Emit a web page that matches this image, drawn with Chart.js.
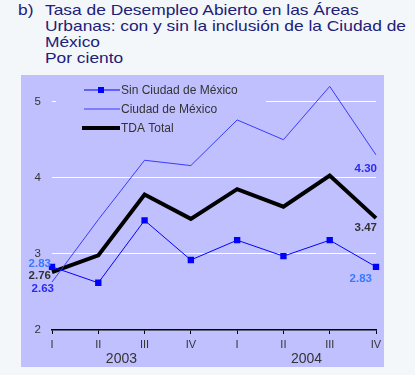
<!DOCTYPE html>
<html>
<head>
<meta charset="utf-8">
<script src="https://cdn.jsdelivr.net/npm/chart.js@4.4.1/dist/chart.umd.min.js"></script>
<style>
  html, body { margin: 0; padding: 0; }
  body { width: 415px; height: 375px; background: #f4f7fa; position: relative; overflow: hidden;
         font-family: "Liberation Sans", Arial, sans-serif; }
  .t { position: absolute; color: #202078; font-size: 13.9px; line-height: 16px;
       transform: scaleX(1.25); transform-origin: 0 0; white-space: nowrap; }
  #panel { position: absolute; left: 21px; top: 75px; width: 363px; height: 292px; background: #c0c0ff; }
  canvas { display: block; }
</style>
</head>
<body>
<div class="t" style="left:18px; top:2px;">b)</div>
<div class="t" style="left:45px; top:2px;">Tasa de Desempleo Abierto en las Áreas<br>Urbanas: con y sin la inclusión de la Ciudad de<br>México<br>Por ciento</div>
<div id="panel"><canvas id="c" width="363" height="292"></canvas></div>
<script>
const categories = ['I', 'II', 'III', 'IV', 'I', 'II', 'III', 'IV'];
const years = ['2003', '2004'];
const sinCiudad = [2.83, 2.62, 3.44, 2.92, 3.18, 2.97, 3.18, 2.83];
const ciudad = [2.63, 3.45, 4.23, 4.16, 4.76, 4.50, 5.20, 4.30];
const tdaTotal = [2.76, 2.98, 3.78, 3.46, 3.85, 3.62, 4.03, 3.47];
const yTicks = [2, 3, 4, 5];
const seriesNames = ['Sin Ciudad de México', 'Ciudad de México', 'TDA Total'];

const FONT = '"Liberation Sans", Arial, sans-serif';
const PANEL = '#c0c0ff';

// legend drawn on a panel-coloured box, under the data lines
const legendPlugin = {
  id: 'boxLegend',
  beforeDatasetsDraw(chart) {
    const ctx = chart.ctx;
    const a = chart.chartArea;
    ctx.save();
    ctx.fillStyle = PANEL;
    ctx.fillRect(a.left + 4, a.top + 3, 210, 60);
    const rows = [15, 34, 53];
    chart.data.datasets.forEach((ds, i) => {
      const y = a.top + rows[i];
      ctx.strokeStyle = ds.borderColor;
      ctx.lineWidth = ds.borderWidth;
      ctx.beginPath();
      ctx.moveTo(a.left + (i === 2 ? 30 : 32), y);
      ctx.lineTo(a.left + 68, y);
      ctx.stroke();
      if (ds.pointRadius > 0) {
        ctx.fillStyle = ds.pointBackgroundColor;
        ctx.fillRect(a.left + 46, y - 3, 6, 6);
      }
      ctx.fillStyle = '#333';
      ctx.font = '12px ' + FONT;
      ctx.textAlign = 'left';
      ctx.textBaseline = 'middle';
      ctx.fillText(ds.label, a.left + 69, y + 0.5);
    });
    ctx.restore();
  }
};

// end value labels and year labels
const labelPlugin = {
  id: 'endLabels',
  afterDatasetsDraw(chart) {
    const ctx = chart.ctx;
    const specs = [
      // dataset, index, color, dx, dy
      [0, 0, '#3a78ff', -1, -3],
      [2, 0, '#333333', -1, 4],
      [1, 0, '#2a2af0', 2, 7],
      [1, 7, '#2a2af0', 1, 14],
      [2, 7, '#333333', 1, 10],
      [0, 7, '#3a78ff', -4, 12]
    ];
    ctx.save();
    ctx.font = 'bold 11.5px ' + FONT;
    ctx.textAlign = 'right';
    ctx.textBaseline = 'middle';
    specs.forEach(([d, i, col, dx, dy]) => {
      const el = chart.getDatasetMeta(d).data[i];
      const v = chart.data.datasets[d].data[i];
      ctx.fillStyle = col;
      ctx.fillText(v.toFixed(2), el.x + dx, el.y + dy);
    });
    // years under the quarters
    const xs = chart.scales.x;
    ctx.font = '14px ' + FONT;
    ctx.fillStyle = '#333';
    ctx.textAlign = 'center';
    years.forEach((yr, k) => {
      const x = (xs.getPixelForValue(4 * k + 1) + xs.getPixelForValue(4 * k + 2)) / 2;
      ctx.fillText(yr, x, chart.chartArea.bottom + 29);
    });
    ctx.restore();
  }
};

new Chart(document.getElementById('c'), {
  type: 'line',
  data: {
    labels: categories,
    datasets: [
      { label: seriesNames[0], data: sinCiudad, borderColor: '#0000ff', borderWidth: 1,
        pointStyle: 'rect', pointRadius: 4.5, pointBackgroundColor: '#0000ff', pointBorderWidth: 0,
        tension: 0 },
      { label: seriesNames[1], data: ciudad, borderColor: '#3a3aff', borderWidth: 1,
        pointRadius: 0, tension: 0 },
      { label: seriesNames[2], data: tdaTotal, borderColor: '#000000', borderWidth: 4,
        pointRadius: 0, tension: 0, borderJoinStyle: 'miter' }
    ]
  },
  options: {
    responsive: false,
    animation: false,
    devicePixelRatio: 1,
    layout: { autoPadding: false, padding: { top: 0, right: 8, left: 0, bottom: 0 } },
    plugins: { legend: { display: false }, tooltip: { enabled: false }, title: { display: false } },
    scales: {
      x: {
        type: 'category',
        offset: false,
        afterFit(s) { s.height = 37; s.paddingLeft = 0; s.paddingRight = 0; },
        grid: { drawOnChartArea: false, drawTicks: true, tickLength: 4, color: '#000', lineWidth: 1 },
        border: { color: '#000', width: 1.5 },
        ticks: { color: '#333', font: { family: FONT, size: 11 }, padding: 4, maxRotation: 0, autoSkip: false }
      },
      y: {
        min: 2,
        max: 5.35,
        afterFit(s) { s.width = 31; s.paddingTop = 0; s.paddingBottom = 0; },
        afterBuildTicks(s) { s.ticks = yTicks.map(v => ({ value: v })); },
        grid: { drawTicks: false, color: (c) => (c.tick && c.tick.value === 2) ? 'rgba(0,0,0,0)' : '#ffffff', lineWidth: 1 },
        border: { display: false },
        ticks: { color: '#333', font: { family: FONT, size: 11.5 }, padding: 11 }
      }
    }
  },
  plugins: [legendPlugin, labelPlugin]
});
</script>
</body>
</html>
